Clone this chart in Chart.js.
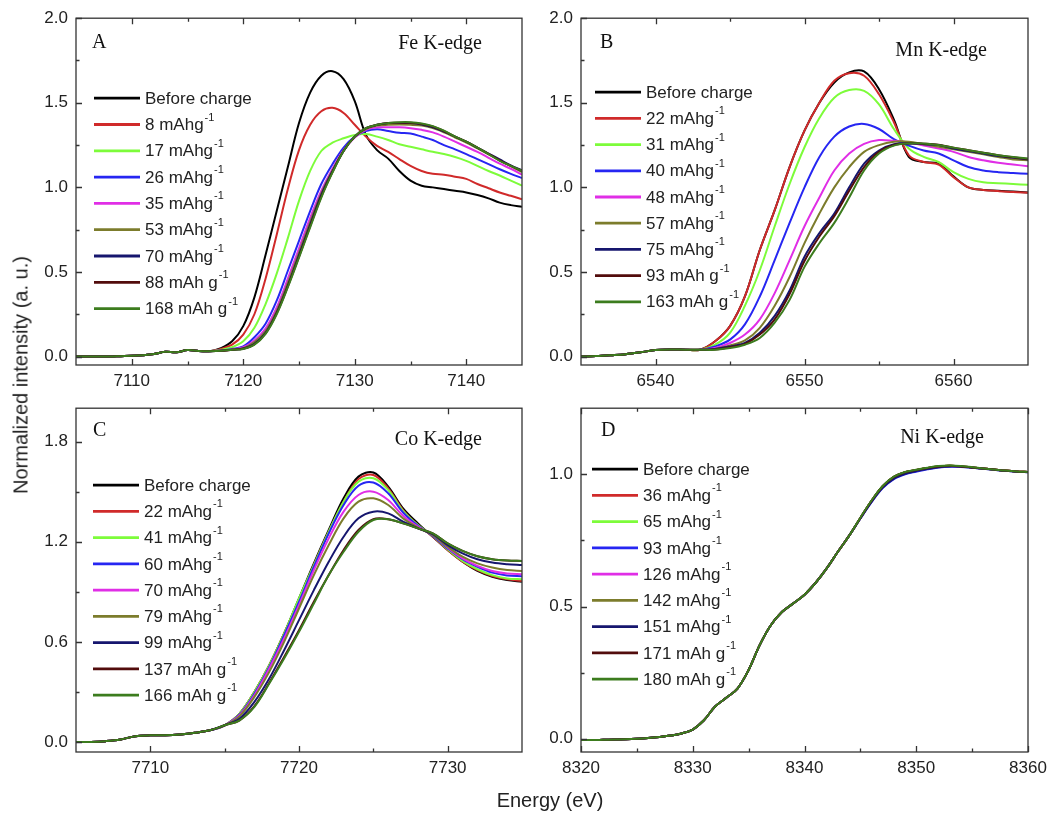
<!DOCTYPE html>
<html>
<head>
<meta charset="utf-8">
<script src="https://cdn.jsdelivr.net/npm/chart.js@4.4.1/dist/chart.umd.min.js"></script>
<style>
  body { margin: 0; background: #fff; }
  #wrap { position: relative; width: 1060px; height: 814px; background: #fff; overflow: hidden; }
  canvas { position: absolute; }
  .title { position: absolute; font-family: "Liberation Sans", Arial, sans-serif; font-size: 20px; color: #222; white-space: nowrap; }
</style>
</head>
<body>
<div id="wrap">
  <canvas id="chartFe" width="530" height="400" style="left:0;top:0"></canvas>
  <canvas id="chartMn" width="530" height="400" style="left:530px;top:0"></canvas>
  <canvas id="chartCo" width="530" height="424" style="left:0;top:390px"></canvas>
  <canvas id="chartNi" width="530" height="424" style="left:530px;top:390px"></canvas>
  <div class="title" style="left:21px;top:375px;transform:translate(-50%,-50%) rotate(-90deg)">Normalized intensity (a. u.)</div>
  <div class="title" style="left:550px;top:800px;transform:translate(-50%,-50%)">Energy (eV)</div>
</div>
<script>
// ---- Fe K-edge (A) ----
const feLabels = ["Before charge", "8 mAhg⁻¹", "17 mAhg⁻¹", "26 mAhg⁻¹", "35 mAhg⁻¹", "53 mAhg⁻¹", "70 mAhg⁻¹", "88 mAh g⁻¹", "168 mAh g⁻¹"];
const feEnergy = [7105, 7106, 7107, 7108, 7109, 7110, 7111, 7112, 7113, 7114, 7115, 7116, 7117, 7118, 7119, 7120, 7121, 7122, 7123, 7124, 7125,
  7126, 7127, 7128, 7129, 7130, 7131, 7132, 7133, 7134, 7135, 7136, 7137, 7138, 7139, 7140, 7141, 7142, 7143, 7144, 7145];
// 7105..7117, same for every curve
const fePre = [0.0, 0.0, 0.0, 0.0, 0.002, 0.004, 0.008, 0.015, 0.028, 0.025, 0.038, 0.033, 0.032];
// 7118..7145
const feEdge = [
  [0.05, 0.09, 0.18, 0.35, 0.60, 0.86, 1.12, 1.38, 1.56, 1.66, 1.687, 1.64, 1.51, 1.31, 1.22, 1.17, 1.097, 1.04, 1.01, 1.0, 0.99, 0.98, 0.97, 0.955, 0.935, 0.91, 0.895, 0.885],
  [0.045, 0.07, 0.13, 0.25, 0.46, 0.72, 0.99, 1.22, 1.37, 1.45, 1.47, 1.44, 1.37, 1.30, 1.245, 1.21, 1.167, 1.127, 1.097, 1.08, 1.075, 1.063, 1.05, 1.02, 0.995, 0.97, 0.95, 0.93],
  [0.04, 0.055, 0.09, 0.17, 0.31, 0.49, 0.70, 0.92, 1.097, 1.215, 1.264, 1.29, 1.31, 1.315, 1.30, 1.28, 1.255, 1.24, 1.225, 1.21, 1.197, 1.18, 1.157, 1.127, 1.097, 1.07, 1.04, 1.01],
  [0.035, 0.045, 0.06, 0.114, 0.194, 0.33, 0.507, 0.684, 0.86, 1.02, 1.137, 1.235, 1.30, 1.333, 1.343, 1.333, 1.323, 1.318, 1.30, 1.28, 1.25, 1.225, 1.197, 1.167, 1.137, 1.107, 1.08, 1.055],
  [0.035, 0.042, 0.055, 0.095, 0.165, 0.29, 0.46, 0.64, 0.82, 0.98, 1.11, 1.22, 1.295, 1.34, 1.355, 1.355, 1.355, 1.35, 1.34, 1.325, 1.30, 1.27, 1.24, 1.21, 1.175, 1.14, 1.11, 1.075],
  [0.034, 0.04, 0.05, 0.085, 0.15, 0.27, 0.435, 0.615, 0.795, 0.965, 1.10, 1.218, 1.30, 1.345, 1.365, 1.37, 1.372, 1.37, 1.365, 1.35, 1.325, 1.295, 1.265, 1.23, 1.195, 1.16, 1.125, 1.09],
  [0.034, 0.04, 0.048, 0.075, 0.14, 0.26, 0.42, 0.60, 0.78, 0.955, 1.095, 1.215, 1.30, 1.35, 1.37, 1.38, 1.38, 1.38, 1.372, 1.355, 1.33, 1.30, 1.27, 1.235, 1.20, 1.165, 1.13, 1.10],
  [0.034, 0.04, 0.046, 0.072, 0.136, 0.255, 0.415, 0.59, 0.77, 0.945, 1.09, 1.215, 1.30, 1.35, 1.37, 1.38, 1.382, 1.382, 1.375, 1.36, 1.333, 1.30, 1.27, 1.235, 1.198, 1.16, 1.127, 1.097],
  [0.034, 0.04, 0.045, 0.07, 0.134, 0.25, 0.41, 0.585, 0.763, 0.94, 1.087, 1.215, 1.30, 1.35, 1.37, 1.38, 1.385, 1.385, 1.378, 1.362, 1.335, 1.30, 1.27, 1.235, 1.197, 1.157, 1.127, 1.097]
];
const feXTicks = [7110, 7120, 7130, 7140];
const feYTicks = [0, 0.5, 1.0, 1.5, 2.0];

// ---- Mn K-edge (B) ----
const mnLabels = ["Before charge", "22 mAhg⁻¹", "31 mAhg⁻¹", "40 mAhg⁻¹", "48 mAhg⁻¹", "57 mAhg⁻¹", "75 mAhg⁻¹", "93 mAh g⁻¹", "163 mAh g⁻¹"];
const mnEnergy = [6535, 6536, 6537, 6538, 6539, 6540, 6541, 6542, 6543, 6544, 6545, 6546, 6547, 6548, 6549, 6550,
  6551, 6552, 6553, 6554, 6555, 6556, 6557, 6558, 6559, 6560, 6561, 6562, 6563, 6564, 6565];
// 6535..6543
const mnPre = [0.0, 0.003, 0.008, 0.014, 0.025, 0.038, 0.042, 0.04, 0.04];
// 6544..6565
const mnEdge = [
  [0.09, 0.18, 0.355, 0.63, 0.865, 1.12, 1.335, 1.50, 1.62, 1.68, 1.685, 1.58, 1.40, 1.18, 1.15, 1.14, 1.065, 1.0, 0.985, 0.98, 0.975, 0.97],
  [0.09, 0.18, 0.355, 0.63, 0.865, 1.12, 1.335, 1.50, 1.63, 1.675, 1.66, 1.55, 1.385, 1.19, 1.15, 1.135, 1.06, 1.0, 0.985, 0.978, 0.972, 0.968],
  [0.07, 0.14, 0.30, 0.51, 0.77, 1.02, 1.237, 1.41, 1.53, 1.575, 1.57, 1.49, 1.345, 1.23, 1.18, 1.15, 1.09, 1.05, 1.03, 1.025, 1.02, 1.015],
  [0.06, 0.10, 0.19, 0.355, 0.57, 0.79, 1.0, 1.18, 1.30, 1.36, 1.375, 1.345, 1.285, 1.247, 1.218, 1.20, 1.16, 1.12, 1.10, 1.09, 1.085, 1.08],
  [0.05, 0.08, 0.13, 0.22, 0.375, 0.57, 0.77, 0.94, 1.10, 1.20, 1.257, 1.28, 1.275, 1.265, 1.247, 1.23, 1.21, 1.18, 1.16, 1.145, 1.135, 1.125],
  [0.045, 0.065, 0.095, 0.17, 0.30, 0.47, 0.67, 0.845, 1.0, 1.12, 1.21, 1.25, 1.27, 1.27, 1.255, 1.24, 1.225, 1.21, 1.195, 1.18, 1.165, 1.16],
  [0.045, 0.06, 0.08, 0.14, 0.24, 0.39, 0.59, 0.73, 0.845, 1.0, 1.14, 1.218, 1.255, 1.26, 1.255, 1.25, 1.23, 1.215, 1.20, 1.185, 1.175, 1.165],
  [0.042, 0.055, 0.075, 0.13, 0.22, 0.37, 0.565, 0.71, 0.83, 0.98, 1.12, 1.21, 1.25, 1.26, 1.258, 1.252, 1.235, 1.22, 1.205, 1.19, 1.178, 1.168],
  [0.04, 0.05, 0.07, 0.11, 0.20, 0.335, 0.53, 0.67, 0.79, 0.94, 1.10, 1.20, 1.247, 1.26, 1.26, 1.25, 1.235, 1.22, 1.205, 1.19, 1.18, 1.17]
];
const mnXTicks = [6540, 6550, 6560];
const mnYTicks = [0, 0.5, 1.0, 1.5, 2.0];

// ---- Co K-edge (C) ----
const coLabels = ["Before charge", "22 mAhg⁻¹", "41 mAhg⁻¹", "60 mAhg⁻¹", "70 mAhg⁻¹", "79 mAhg⁻¹", "99 mAhg⁻¹", "137 mAh g⁻¹", "166 mAh g⁻¹"];
const coEnergy = [7705, 7706, 7707, 7708, 7709, 7710, 7711, 7712, 7713, 7714, 7715, 7716, 7717, 7718, 7719, 7720,
  7721, 7722, 7723, 7724, 7725, 7726, 7727, 7728, 7729, 7730, 7731, 7732, 7733, 7734, 7735];
// 7705..7715
const coPre = [0.0, 0.0, 0.005, 0.015, 0.035, 0.04, 0.04, 0.045, 0.055, 0.07, 0.1];
// 7716..7735
const coEdge = [
  [0.17, 0.30, 0.46, 0.65, 0.86, 1.07, 1.27, 1.46, 1.59, 1.615, 1.53, 1.40, 1.31, 1.23, 1.15, 1.08, 1.025, 0.99, 0.97, 0.96],
  [0.17, 0.30, 0.46, 0.65, 0.85, 1.06, 1.26, 1.44, 1.575, 1.60, 1.52, 1.39, 1.30, 1.23, 1.15, 1.08, 1.03, 0.995, 0.975, 0.965],
  [0.17, 0.30, 0.46, 0.65, 0.86, 1.06, 1.26, 1.44, 1.56, 1.58, 1.51, 1.385, 1.30, 1.235, 1.155, 1.085, 1.035, 1.0, 0.98, 0.975],
  [0.165, 0.29, 0.45, 0.64, 0.84, 1.05, 1.25, 1.42, 1.535, 1.555, 1.49, 1.375, 1.295, 1.235, 1.16, 1.095, 1.05, 1.015, 0.998, 0.993],
  [0.16, 0.28, 0.44, 0.62, 0.82, 1.03, 1.22, 1.38, 1.48, 1.50, 1.45, 1.355, 1.29, 1.24, 1.165, 1.10, 1.055, 1.025, 1.01, 1.005],
  [0.155, 0.27, 0.42, 0.60, 0.80, 1.00, 1.18, 1.34, 1.44, 1.46, 1.42, 1.34, 1.285, 1.24, 1.17, 1.11, 1.07, 1.045, 1.03, 1.025],
  [0.14, 0.24, 0.38, 0.55, 0.73, 0.91, 1.08, 1.23, 1.34, 1.38, 1.37, 1.32, 1.28, 1.245, 1.18, 1.13, 1.095, 1.075, 1.065, 1.06],
  [0.13, 0.215, 0.355, 0.51, 0.67, 0.84, 1.0, 1.15, 1.27, 1.335, 1.335, 1.31, 1.28, 1.25, 1.19, 1.145, 1.113, 1.095, 1.087, 1.085],
  [0.13, 0.21, 0.35, 0.50, 0.66, 0.83, 1.0, 1.14, 1.26, 1.33, 1.335, 1.31, 1.28, 1.25, 1.19, 1.145, 1.113, 1.095, 1.087, 1.085]
];
const coXTicks = [7710, 7720, 7730];
const coYTicks = [0, 0.6, 1.2, 1.8];

// ---- Ni K-edge (D) ----
const niLabels = ["Before charge", "36 mAhg⁻¹", "65 mAhg⁻¹", "93 mAhg⁻¹", "126 mAhg⁻¹", "142 mAhg⁻¹", "151 mAhg⁻¹", "171 mAh g⁻¹", "180 mAh g⁻¹"];
const niEnergy = [8320, 8321, 8322, 8323, 8324, 8325, 8326, 8327, 8328, 8329, 8330, 8331, 8332, 8333, 8334, 8335, 8336, 8337, 8338, 8339, 8340,
  8341, 8342, 8343, 8344, 8345, 8346, 8347, 8348, 8349, 8350, 8351, 8352, 8353, 8354, 8355, 8356, 8357, 8358, 8359, 8360];
// 8320..8344
const niPre = [-0.005, -0.005, -0.004, -0.003, -0.002, 0.0, 0.003, 0.007, 0.012, 0.02, 0.035, 0.07, 0.122, 0.155, 0.19, 0.26, 0.355,
  0.43, 0.48, 0.512, 0.545, 0.59, 0.645, 0.708, 0.768];
// 8345..8360
const niEdge = [
  [0.835, 0.90, 0.955, 0.99, 1.008, 1.016, 1.024, 1.03, 1.032, 1.03, 1.026, 1.022, 1.018, 1.014, 1.011, 1.009],
  [0.835, 0.90, 0.955, 0.99, 1.008, 1.016, 1.024, 1.03, 1.032, 1.03, 1.026, 1.022, 1.018, 1.014, 1.011, 1.009],
  [0.835, 0.90, 0.954, 0.989, 1.007, 1.016, 1.024, 1.03, 1.032, 1.03, 1.026, 1.022, 1.018, 1.014, 1.011, 1.009],
  [0.833, 0.895, 0.948, 0.982, 1.0, 1.01, 1.019, 1.026, 1.029, 1.028, 1.025, 1.021, 1.017, 1.013, 1.01, 1.008],
  [0.835, 0.899, 0.953, 0.988, 1.006, 1.015, 1.023, 1.029, 1.031, 1.03, 1.026, 1.022, 1.018, 1.014, 1.011, 1.009],
  [0.835, 0.90, 0.955, 0.99, 1.008, 1.016, 1.024, 1.03, 1.032, 1.03, 1.026, 1.022, 1.018, 1.014, 1.011, 1.009],
  [0.833, 0.896, 0.95, 0.984, 1.002, 1.012, 1.02, 1.027, 1.03, 1.029, 1.025, 1.021, 1.017, 1.013, 1.01, 1.008],
  [0.835, 0.90, 0.955, 0.99, 1.008, 1.016, 1.024, 1.03, 1.032, 1.03, 1.026, 1.022, 1.018, 1.014, 1.011, 1.009],
  [0.836, 0.901, 0.956, 0.991, 1.009, 1.017, 1.025, 1.031, 1.033, 1.031, 1.027, 1.022, 1.018, 1.014, 1.011, 1.009]
];
const niXTicks = [8320, 8330, 8340, 8350, 8360];
const niYTicks = [0, 0.5, 1.0];

const lineColors = ["#000000", "#d02a2a", "#7dfc3a", "#2626f2", "#e02ee6", "#7c7c2c", "#16166e", "#520c0c", "#3c7c1e"];
const sansFont = '"Liberation Sans", Arial, sans-serif';
const serifFont = '"Liberation Serif", "Times New Roman", serif';

function minorOf(major, min, max) {
  const h = (major[1] - major[0]) / 2, out = [];
  for (let k = -10; k < 40; k++) {
    const v = major[0] + h * (2 * k + 1);
    if (v > min + 1e-6 && v < max - 1e-6) out.push(v);
  }
  return out;
}

// frame, inward ticks, legend and panel labels
const framePlugin = {
  id: "frame",
  afterDatasetsDraw(chart, args, o) {
    const ctx = chart.ctx, a = chart.chartArea;
    const xs = chart.scales.x, ys = chart.scales.y;
    ctx.save();
    ctx.strokeStyle = "#333";
    ctx.lineWidth = 1.3;
    ctx.strokeRect(a.left, a.top, a.right - a.left, a.bottom - a.top);
    ctx.beginPath();
    const xMinor = minorOf(o.xTicks, xs.min, xs.max), yMinor = minorOf(o.yTicks, ys.min, ys.max);
    [[o.xTicks, 6], [xMinor, 3.5]].forEach(([vals, len]) => vals.forEach(v => {
      const p = Math.round(xs.getPixelForValue(v)) + 0.5;
      ctx.moveTo(p, a.bottom); ctx.lineTo(p, a.bottom - len);
      ctx.moveTo(p, a.top); ctx.lineTo(p, a.top + len);
    }));
    [[o.yTicks, 6], [yMinor, 3.5]].forEach(([vals, len]) => vals.forEach(v => {
      const p = Math.round(ys.getPixelForValue(v)) + 0.5;
      ctx.moveTo(a.left, p); ctx.lineTo(a.left + len, p);
    }));
    ctx.stroke();

    // legend
    ctx.textBaseline = "middle";
    chart.data.datasets.forEach((ds, i) => {
      const y = a.top + o.legendY + i * o.legendStep;
      const x0 = a.left + o.legendX;
      ctx.strokeStyle = ds.borderColor;
      ctx.lineWidth = 2.8;
      ctx.beginPath(); ctx.moveTo(x0, y); ctx.lineTo(x0 + 46, y); ctx.stroke();
      ctx.fillStyle = "#222";
      ctx.font = "17px " + sansFont;
      let text = ds.label, sup = "";
      if (text.endsWith("⁻¹")) { text = text.slice(0, -2); sup = "-1"; }
      ctx.fillText(text, x0 + 51, y + 1);
      if (sup) {
        const w = ctx.measureText(text).width;
        ctx.font = "11px " + sansFont;
        ctx.fillText(sup, x0 + 51 + w + 1, y - 7);
      }
    });

    // panel letter and edge name
    ctx.fillStyle = "#111";
    ctx.font = "20px " + serifFont;
    ctx.textBaseline = "alphabetic";
    ctx.textAlign = "left";
    ctx.fillText(o.letter, a.left + o.letterX, a.top + o.letterY);
    ctx.textAlign = "right";
    ctx.fillText(o.edge, a.right - o.edgeRight, a.top + o.edgeY);
    ctx.restore();
  }
};

function makePanel(id, energy, pre, edges, labels, cfg) {
  const datasets = edges.map((edge, i) => ({
    label: labels[i],
    data: pre.concat(edge).map((y, k) => ({ x: energy[k], y: y })),
    borderColor: lineColors[i],
    borderWidth: 2,
    pointRadius: 0,
    fill: false,
    tension: 0.35,
    order: -i
  }));
  return new Chart(id, {
    type: "line",
    data: { datasets: datasets },
    options: {
      responsive: false,
      animation: false,
      events: [],
      layout: { padding: cfg.padding },
      plugins: {
        legend: { display: false },
        tooltip: { enabled: false },
        frame: cfg.frame
      },
      scales: {
        x: {
          type: "linear",
          min: cfg.xMin,
          max: cfg.xMax,
          grid: { display: false, drawTicks: false },
          border: { display: false },
          ticks: { font: { family: sansFont, size: 17 }, color: "#222", padding: 6, maxRotation: 0, callback: v => String(v) },
          afterBuildTicks: s => { s.ticks = cfg.frame.xTicks.map(v => ({ value: v })); },
          afterFit: s => { s.height = cfg.xHeight; }
        },
        y: {
          type: "linear",
          min: cfg.yMin,
          max: cfg.yMax,
          grid: { display: false, drawTicks: false },
          border: { display: false },
          ticks: { font: { family: sansFont, size: 17 }, color: "#222", padding: 8, callback: v => v.toFixed(1) },
          afterBuildTicks: s => { s.ticks = cfg.frame.yTicks.map(v => ({ value: v })); },
          afterFit: s => { s.width = cfg.yWidth; }
        }
      }
    },
    plugins: [framePlugin]
  });
}

makePanel("chartFe", feEnergy, fePre, feEdge, feLabels, {
  padding: { left: 0, top: 17, right: 8, bottom: 0 }, xHeight: 35, yWidth: 76,
  xMin: 7105, xMax: 7145, yMin: -0.05, yMax: 2.0,
  frame: { xTicks: feXTicks, yTicks: feYTicks, legendX: 18, legendY: 80, legendStep: 26.3,
    letter: "A", letterX: 16, letterY: 30, edge: "Fe K-edge", edgeRight: 40, edgeY: 31 }
});
makePanel("chartMn", mnEnergy, mnPre, mnEdge, mnLabels, {
  padding: { left: 0, top: 17, right: 32, bottom: 0 }, xHeight: 35, yWidth: 51,
  xMin: 6535, xMax: 6565, yMin: -0.05, yMax: 2.0,
  frame: { xTicks: mnXTicks, yTicks: mnYTicks, legendX: 14, legendY: 74, legendStep: 26.2,
    letter: "B", letterX: 19, letterY: 30, edge: "Mn K-edge", edgeRight: 41, edgeY: 38 }
});
makePanel("chartCo", coEnergy, coPre, coEdge, coLabels, {
  padding: { left: 0, top: 15, right: 8, bottom: 0 }, xHeight: 62, yWidth: 76,
  xMin: 7705, xMax: 7735, yMin: -0.06, yMax: 2.0,
  frame: { xTicks: coXTicks, yTicks: coYTicks, legendX: 17, legendY: 77, legendStep: 26.25,
    letter: "C", letterX: 17, letterY: 28, edge: "Co K-edge", edgeRight: 40, edgeY: 37 }
});
makePanel("chartNi", niEnergy, niPre, niEdge, niLabels, {
  padding: { left: 0, top: 15, right: 32, bottom: 0 }, xHeight: 62, yWidth: 51,
  xMin: 8320, xMax: 8360, yMin: -0.05, yMax: 1.25,
  frame: { xTicks: niXTicks, yTicks: niYTicks, legendX: 11, legendY: 61, legendStep: 26.25,
    letter: "D", letterX: 20, letterY: 28, edge: "Ni K-edge", edgeRight: 44, edgeY: 35 }
});
</script>
</body>
</html>
